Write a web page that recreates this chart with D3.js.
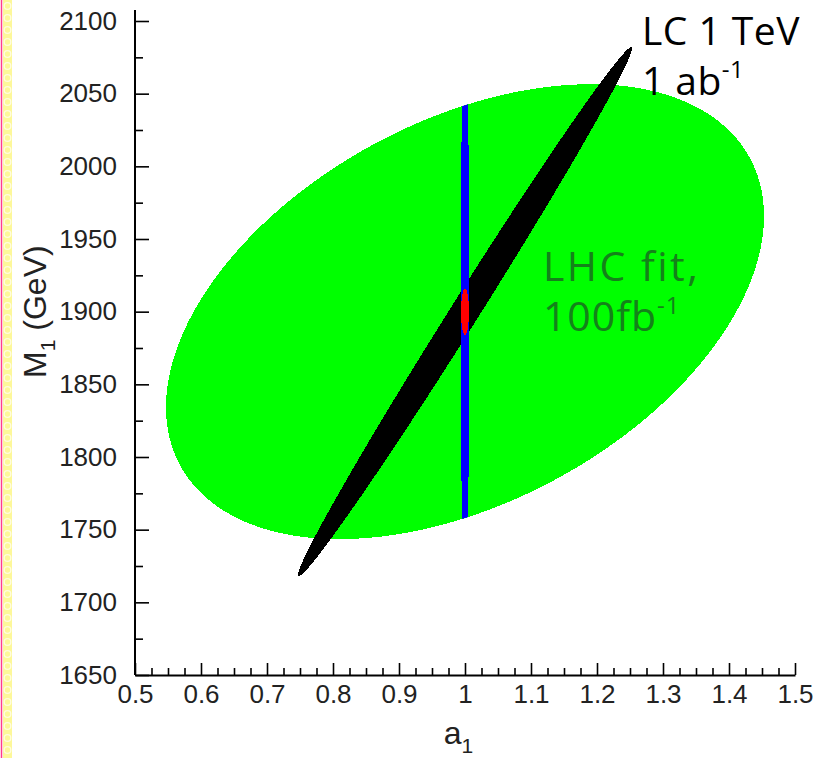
<!DOCTYPE html>
<meta charset="utf-8">
<style>

    body {
        margin: 0;
        background: #fff;
    }

    .axis text {
        font-family: "Liberation Sans", Arial, sans-serif;
        font-size: 26px;
        fill: #222;
    }

    .axis line, .axis path {
        stroke: #000;
    }

    .title {
        font-family: "Liberation Sans", Arial, sans-serif;
        font-size: 32px;
        fill: #222;
    }

    .note {
        font-family: "Open Sans", sans-serif;
        font-size: 40px;
    }

</style>
<body>
<script src="https://cdn.jsdelivr.net/npm/d3@7"></script>
<script>

    // one entry per fitted region (1-sigma contours in the a1 / M1 plane)
    var regionNames = ["LHC fit, 100fb-1", "LC 1 TeV, 1 ab-1", "LHC+LC", "combined"];
    var centerA1 = [1.0, 1.0, 1.0, 1.0];
    var centerM1 = [1900, 1900, 1900, 1900];
    var halfA1 = [0.453, 0.253, 0.0065, 0.006];
    var halfM1 = [156.5, 182, 200, 16];
    var corr = [0.42, 0.995, 0, 0];

    var xTicks = [0.5, 0.6, 0.7, 0.8, 0.9, 1.0, 1.1, 1.2, 1.3, 1.4, 1.5];
    var xTickLabels = ["0.5", "0.6", "0.7", "0.8", "0.9", "1", "1.1", "1.2", "1.3", "1.4", "1.5"];
    var yTicks = [1650, 1700, 1750, 1800, 1850, 1900, 1950, 2000, 2050, 2100];

    var colors = ["#00ff00", "#000000", "#0000ff", "#ff0000"];

    var width = 817, height = 758;

    var x = d3.scaleLinear().domain([0.5, 1.5]).range([135, 795]);
    var y = d3.scaleLinear().domain([1650, 2100]).range([675, 21]);

    var svg = d3.select("body").append("svg")
            .attr("width", width)
            .attr("height", height);

    // page edge decoration on the left
    var edge = svg.append("g");
    edge.append("rect").attr("x", 3).attr("y", 0).attr("width", 9).attr("height", height)
            .attr("fill", "#fdf89a");
    edge.selectAll("circle").data(d3.range(0, height, 12)).enter().append("circle")
            .attr("cx", 7.5).attr("cy", function(d) { return d + 6; }).attr("r", 3.3)
            .attr("fill", "none").attr("stroke", "#fffde0").attr("stroke-width", 1.3);
    edge.append("line").attr("x1", 1.5).attr("x2", 1.5).attr("y1", 0).attr("y2", height)
            .attr("stroke", "#ff3d8b").attr("stroke-width", 1.5);

    function ellipse(i) {
        var phi = Math.acos(corr[i]);
        var pts = d3.range(0, 360, 1).map(function(deg) {
            var t = deg * Math.PI / 180;
            return [x(centerA1[i] + halfA1[i] * Math.cos(t)),
                    y(centerM1[i] + halfM1[i] * Math.cos(t - phi))];
        });
        return d3.line().curve(d3.curveLinearClosed)(pts);
    }

    svg.append("clipPath").attr("id", "lhc")
            .append("path").attr("d", ellipse(0));

    var plot = svg.append("g").attr("class", "regions");
    plot.selectAll("path").data(d3.range(regionNames.length)).enter().append("path")
            .attr("d", ellipse)
            .attr("fill", function(i) { return colors[i]; })
            .attr("clip-path", function(i) { return i === 2 ? "url(#lhc)" : null; })
            .attr("shape-rendering", "crispEdges");

    // axes
    var yAxis = d3.axisLeft(y).tickValues(yTicks).tickFormat(d3.format("d"))
            .tickSizeInner(-14).tickSizeOuter(0).tickPadding(18);
    var yMinor = d3.axisLeft(y).tickValues(d3.range(1675, 2100, 50)).tickSize(-8).tickFormat("");
    var xAxis = d3.axisBottom(x).tickValues(xTicks)
            .tickFormat(function(d, i) { return xTickLabels[i]; })
            .tickSizeInner(-12).tickSizeOuter(0).tickPadding(10);
    var xMinor = d3.axisBottom(x).tickValues(d3.range(0.525, 1.5, 0.025).filter(function(d) {
                return Math.abs(d * 10 - Math.round(d * 10)) > 0.01; }))
            .tickSize(-7).tickFormat("");

    var gy = svg.append("g").attr("class", "y axis").attr("transform", "translate(" + x.range()[0] + ",0)");
    gy.call(yAxis);
    gy.append("g").call(yMinor).select(".domain").remove();
    gy.select(".domain").remove();
    gy.append("line").attr("y1", y.range()[0]).attr("y2", y.range()[1] - 11)
            .attr("stroke", "#000").attr("stroke-width", 2);
    gy.selectAll(".tick line").attr("stroke-width", 1.6);

    var gx = svg.append("g").attr("class", "x axis").attr("transform", "translate(0," + y.range()[0] + ")");
    gx.call(xAxis);
    gx.append("g").call(xMinor).select(".domain").remove();
    gx.select(".domain").attr("stroke-width", 2);
    gx.selectAll(".tick line").attr("stroke-width", 1.6);
    gx.selectAll(".tick text").attr("dy", "0.71em");

    // axis titles
    var xt = svg.append("text").attr("class", "title")
            .attr("x", x(0.99)).attr("y", 744).attr("text-anchor", "middle");
    xt.append("tspan").text("a");
    xt.append("tspan").attr("font-size", "21px").attr("dy", 9).text("1");

    var yt = svg.append("text").attr("class", "title")
            .attr("transform", "translate(46," + y(1900) + ") rotate(-90)")
            .attr("text-anchor", "middle");
    yt.append("tspan").text("M");
    yt.append("tspan").attr("font-size", "21px").attr("dy", 9).text("1");
    yt.append("tspan").attr("dy", -9).text(" (GeV)");

    // annotations
    function note(a, m, main, sup, color, size, spacing) {
        var t = svg.append("text").attr("class", "note")
                .attr("x", x(a)).attr("y", y(m)).attr("fill", color)
                .style("font-size", size + "px")
                .style("letter-spacing", (spacing || 0) + "px");
        t.append("tspan").text(main);
        if (sup) t.append("tspan").attr("font-size", "24px").attr("dy", -17).text(sup);
    }
    note(1.268, 2083.5, "LC 1 TeV", null, "#000", 39, 0.5);
    note(1.268, 2049, "1 ab", "-1", "#000", 39, 0.5);
    note(1.118, 1921, "LHC fit,", null, "#14821a", 41, 2.5);
    note(1.118, 1887, "100fb", "-1", "#14821a", 41, 1);

</script>
